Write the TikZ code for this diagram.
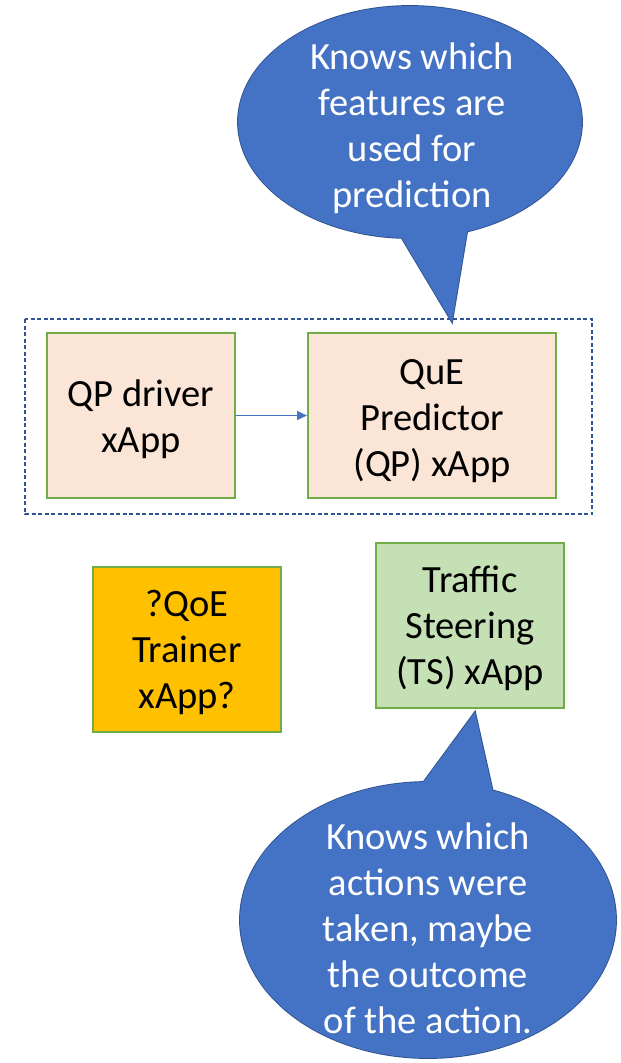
\documentclass[tikz,border=0pt]{standalone}
\usepackage{fontspec}
\setmainfont{Carlito}
\usetikzlibrary{arrows.meta}
\definecolor{peach}{HTML}{FBE5D6}
\definecolor{boxgreen}{HTML}{70AD47}
\definecolor{gold}{HTML}{FFC000}
\definecolor{lightgreen}{HTML}{C5E0B4}
\definecolor{callblue}{HTML}{4472C4}
\definecolor{callborder}{HTML}{2F528F}
\definecolor{dashblue}{HTML}{2F5597}
\newcommand\boxlines[2]{\raisebox{#1}[\height][\depth]{\begin{tabular}{@{}c@{}}#2\end{tabular}}}
\begin{document}
\begin{tikzpicture}[x=1pt,y=-1pt,
  txt/.style={font=\fontsize{38.5}{46}\selectfont, align=center, inner sep=0pt},
  appbox/.style={draw=boxgreen, line width=2pt, minimum width=188pt, minimum height=165pt, inner sep=0pt, font=\fontsize{38.5}{46}\selectfont, text=black},
  calloutline/.style={draw=callborder, fill=callblue, line width=1.8pt},
  calloutfill/.style={fill=callblue},
  flow/.style={draw=callblue, line width=1.3pt, -{Triangle[length=10pt,width=9pt]}},
  group/.style={draw=dashblue, line width=1.5pt, dash pattern=on 4pt off 2.5pt}
]
\useasboundingbox (0,0) rectangle (621,1063);

% dashed container
\draw[group] (25,319) rectangle (592,514);

% boxes
\node[appbox, fill=peach] (drv) at (141,415.5) {\boxlines{-4.5pt}{QP driver\\xApp}};
\node[appbox, fill=peach, minimum width=248pt] (qp) at (432,415.5) {\boxlines{-5.5pt}{QuE\\Predictor\\(QP) xApp}};
\node[appbox, fill=gold] (trn) at (187,649) {\boxlines{-4pt}{?QoE\\Trainer\\xApp?}};
\node[appbox, fill=lightgreen] (ts) at (470,625) {\boxlines{-4pt}{Traffic\\Steering\\(TS) xApp}};

\draw[flow] (drv.east) -- (qp.west);

% top callout
\coordinate (tipA) at (452,322);
\path[calloutline] (391,220) -- (469,220) -- (tipA) -- cycle;
\path[calloutline] (410,122) ellipse [x radius=172, y radius=116];
\path[calloutfill] (391,220) -- (469,220) -- (tipA) -- cycle;
\path[calloutfill] (410,122) ellipse [x radius=172, y radius=116];
\node[txt, text=white] (noteA) at (412,128) {Knows which\\features are\\used for\\prediction};

% bottom callout
\coordinate (tipB) at (475,712);
\path[calloutline] (403,810) -- (497,810) -- (tipB) -- cycle;
\path[calloutline] (428,920) ellipse [x radius=188, y radius=138];
\path[calloutfill] (403,810) -- (497,810) -- (tipB) -- cycle;
\path[calloutfill] (428,920) ellipse [x radius=188, y radius=138];
\node[txt, text=white] (noteB) at (428,928) {Knows which\\actions were\\taken, maybe\\the outcome\\of the action.};
\end{tikzpicture}
\end{document}
